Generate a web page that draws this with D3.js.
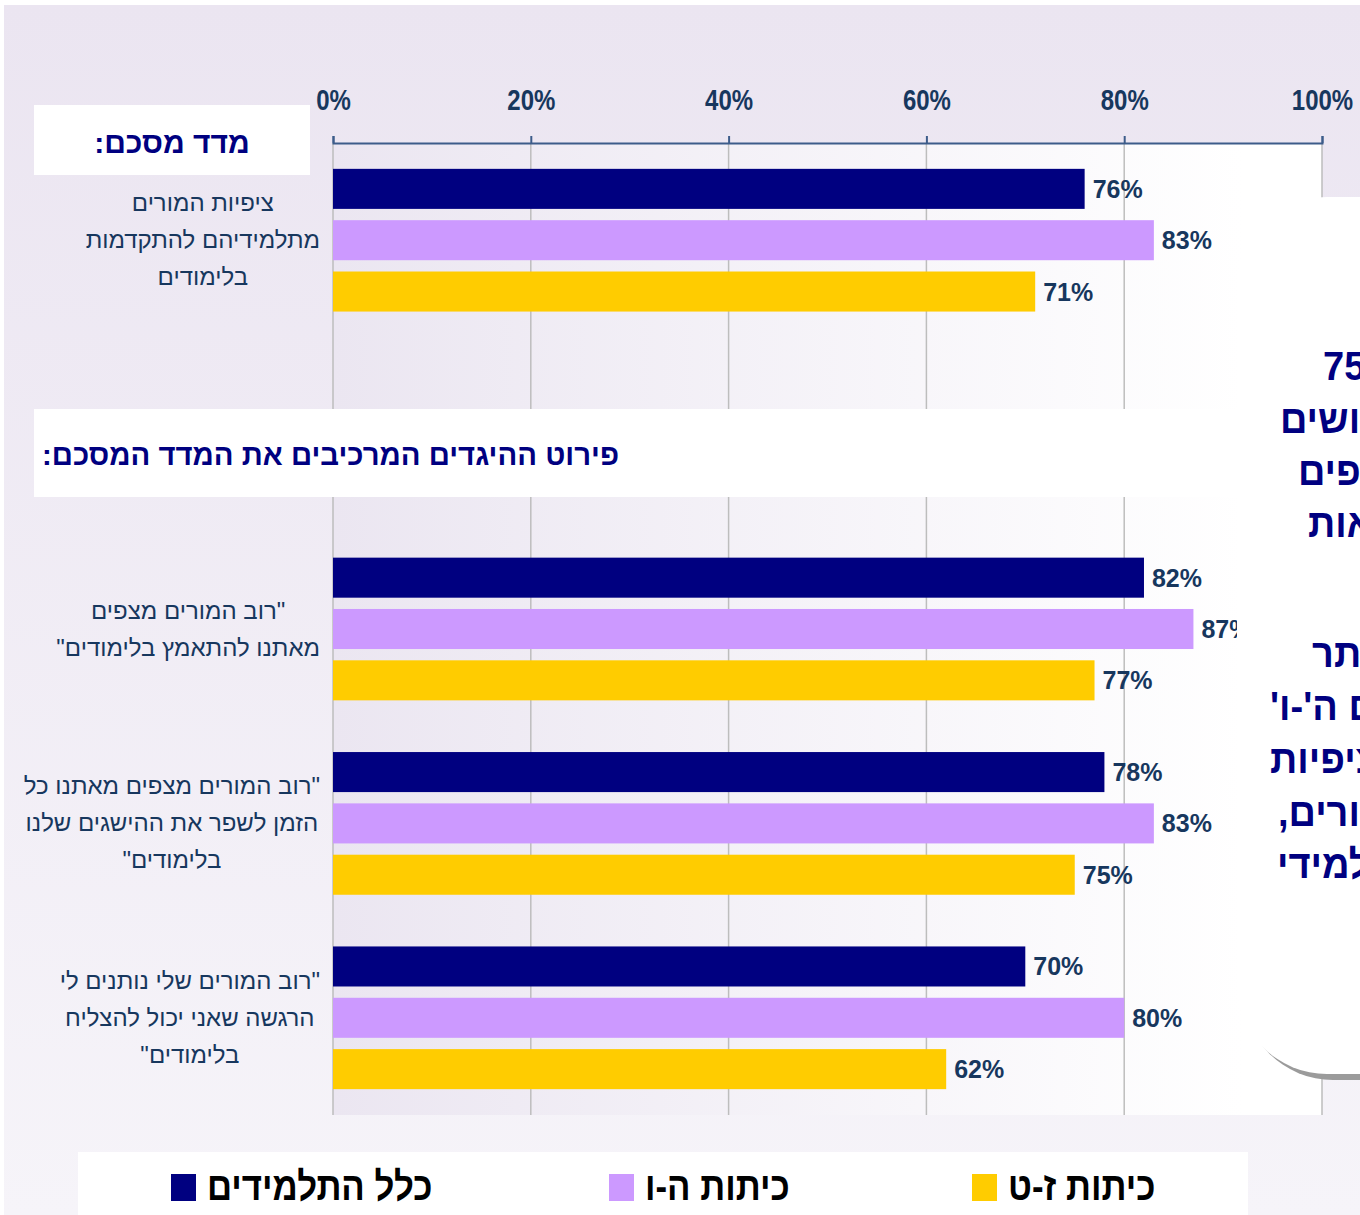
<!DOCTYPE html>
<html>
<head>
<meta charset="utf-8">
<style>
body { margin: 0; background: #fff; }
svg { display: block; }
</style>
</head>
<body>
<script src="https://d3js.org/d3.v7.min.js"></script>
<div id="my_dataviz"></div>
<script>

// data
var groups = ["g0", "hdr", "g1", "g2", "g3"];
var groupLabels = {
  g0: ["ציפיות המורים", "מתלמידיהם להתקדמות", "בלימודים"],
  g1: ["\"רוב המורים מצפים", "מאתנו להתאמץ בלימודים\""],
  g2: ["\"רוב המורים מצפים מאתנו כל", "הזמן לשפר את ההישגים שלנו", "בלימודים\""],
  g3: ["\"רוב המורים שלי נותנים לי", "הרגשה שאני יכול להצליח", "בלימודים\""]
};
var seriesNames = ["כלל התלמידים", "כיתות ה-ו", "כיתות ז-ט"];
var allStudents = [76, 82, 78, 70];
var grades56 = [83, 87, 83, 80];
var grades79 = [71, 77, 75, 62];
var tickValues = [0, 20, 40, 60, 80, 100];
var colors = ["#000080", "#cc99ff", "#ffcc00"];

var calloutLines1 = ["כ-75%", "מהתלמידים חושים", "שהמורים מצפים", "מהם להגיע לתוצאות"];
var calloutLines2 = ["ובולט יותר", "בקרב התלמידים ה'-ו'", "תחושת ציפיות", "מצד המורים,", "לתלמידי"];

var barGroups = ["g0", "g1", "g2", "g3"];
var rows = barGroups.map(function(g, i) {
  return { group: g, values: [allStudents[i], grades56[i], grades79[i]] };
});

var W = 1360, H = 1215;
var hebFont = "'Liberation Sans', Arial, sans-serif";
var textBlue = "#17375e";

// squeeze a text horizontally (the original uses a narrow typeface)
function condense(sel, f) {
  sel.each(function() {
    var w = this.getComputedTextLength();
    d3.select(this).attr("textLength", w * f).attr("lengthAdjust", "spacingAndGlyphs");
  });
}

var svg = d3.select("#my_dataviz").append("svg")
  .attr("width", W).attr("height", H);

var defs = svg.append("defs");
var pageGrad = defs.append("linearGradient").attr("id", "pageGrad")
  .attr("x1", 0).attr("y1", 0).attr("x2", 0).attr("y2", 1);
pageGrad.append("stop").attr("offset", "0%").attr("stop-color", "#ebe5f1");
pageGrad.append("stop").attr("offset", "100%").attr("stop-color", "#f6f4f9");

var plotGrad = defs.append("linearGradient").attr("id", "plotGrad")
  .attr("x1", 0).attr("y1", 0).attr("x2", 1).attr("y2", 0);
plotGrad.append("stop").attr("offset", "0%").attr("stop-color", "#ebe6f1");
plotGrad.append("stop").attr("offset", "92%").attr("stop-color", "#ffffff");
plotGrad.append("stop").attr("offset", "100%").attr("stop-color", "#ffffff");

// page background
svg.append("rect").attr("x", 4).attr("y", 5).attr("width", W - 4).attr("height", H - 5)
  .attr("fill", "url(#pageGrad)");

// scales
var x = d3.scaleLinear().domain([0, 100]).range([333, 1322]);
var y0 = d3.scaleBand().domain(groups).range([143, 1115]);
var bw = y0.bandwidth();
var y1 = d3.scaleBand().domain([0, 1, 2])
  .range([bw / 2 - 77, bw / 2 + 77])
  .paddingInner(0.22).paddingOuter(0.11);

// plot area
svg.append("rect")
  .attr("x", x(0)).attr("y", y0.range()[0])
  .attr("width", x(100) - x(0)).attr("height", y0.range()[1] - y0.range()[0])
  .attr("fill", "url(#plotGrad)");

// grid lines
svg.append("g").selectAll("line")
  .data(tickValues)
  .join("line")
    .attr("x1", function(d) { return x(d); })
    .attr("x2", function(d) { return x(d); })
    .attr("y1", y0.range()[0])
    .attr("y2", y0.range()[1])
    .attr("stroke", "#bdbdbd")
    .attr("stroke-width", 1.5);

// top axis
var axis = svg.append("g")
  .attr("transform", "translate(0," + y0.range()[0] + ")")
  .call(d3.axisTop(x).tickValues(tickValues).tickSize(7).tickPadding(26)
    .tickFormat(function(d) { return d + "%"; }));
axis.selectAll("path, line").attr("stroke", "#3d5c8a").attr("stroke-width", 2);
axis.selectAll("text")
  .attr("fill", textBlue)
  .style("font-family", hebFont)
  .style("font-weight", "bold")
  .style("font-size", "30px")
  .call(condense, 0.8);

// header boxes
svg.append("rect").attr("x", 34).attr("y", 105).attr("width", 276).attr("height", 70).attr("fill", "#fff");
svg.append("text")
  .attr("x", 172).attr("y", 153)
  .attr("direction", "rtl").attr("text-anchor", "middle")
  .attr("fill", "#000080")
  .style("font-family", hebFont).style("font-weight", "bold").style("font-size", "30px")
  .text("מדד מסכם:");

svg.append("rect").attr("x", 34).attr("y", 409).attr("width", 1206).attr("height", 88).attr("fill", "#fff");
svg.append("text")
  .attr("x", 619).attr("y", 465)
  .attr("direction", "rtl").attr("text-anchor", "start")
  .attr("fill", "#000080")
  .style("font-family", hebFont).style("font-weight", "bold").style("font-size", "29.3px")
  .text("פירוט ההיגדים המרכיבים את המדד המסכם:");

// bars
var rowG = svg.append("g").selectAll("g")
  .data(rows)
  .join("g")
    .attr("transform", function(d) { return "translate(0," + y0(d.group) + ")"; });

rowG.selectAll("rect")
  .data(function(d) { return d.values; })
  .join("rect")
    .attr("x", x(0))
    .attr("y", function(d, i) { return y1(i); })
    .attr("width", function(d) { return x(d) - x(0); })
    .attr("height", y1.bandwidth())
    .attr("fill", function(d, i) { return colors[i]; });

rowG.selectAll("text")
  .data(function(d) { return d.values; })
  .join("text")
    .attr("x", function(d) { return x(d) + 8; })
    .attr("y", function(d, i) { return y1(i) + y1.bandwidth() / 2 + 9; })
    .attr("fill", textBlue)
    .style("font-family", hebFont).style("font-weight", "bold").style("font-size", "25px")
    .text(function(d) { return d + "%"; });

// category labels, centred block with right edge at 320
barGroups.forEach(function(g) {
  var lines = groupLabels[g];
  var cy = y0(g) + bw / 2;
  var t = svg.append("g").selectAll("text")
    .data(lines)
    .join("text")
      .attr("y", function(d, i) { return cy + (i - (lines.length - 1) / 2) * 37 + 8; })
      .attr("direction", "rtl").attr("text-anchor", "middle")
      .attr("fill", textBlue)
      .style("font-family", hebFont).style("font-size", "24px")
      .text(function(d) { return d; });
  var maxW = d3.max(t.nodes(), function(n) { return n.getComputedTextLength(); });
  t.attr("x", 320 - maxW / 2);
});

// callout box on the right (partly outside the page)
svg.append("rect").attr("x", 1243).attr("y", 205).attr("width", 260).attr("height", 875)
  .attr("rx", 90).attr("fill", "#9b9b9b");
svg.append("rect").attr("x", 1237).attr("y", 197).attr("width", 260).attr("height", 877)
  .attr("rx", 90).attr("fill", "#fff");

var calloutStyle = function(sel) {
  sel.attr("direction", "rtl").attr("text-anchor", "end")
    .attr("fill", "#000080")
    .style("font-family", hebFont).style("font-weight", "bold").style("font-size", "40px");
};
var c1x = [1323, 1280, 1298, 1308];
var c1y = [380, 433, 485, 537];
svg.append("g").selectAll("text").data(calloutLines1).join("text")
  .attr("transform", function(d, i) { return "translate(" + c1x[i] + "," + c1y[i] + ") scale(0.95,1)"; })
  .text(function(d) { return d; })
  .call(calloutStyle);
var c2x = [1312, 1270, 1270, 1278, 1277];
var c2y = [667, 720, 773, 826, 878];
svg.append("g").selectAll("text").data(calloutLines2).join("text")
  .attr("transform", function(d, i) { return "translate(" + c2x[i] + "," + c2y[i] + ") scale(0.95,1)"; })
  .text(function(d) { return d; })
  .call(calloutStyle);

// legend
svg.append("rect").attr("x", 78).attr("y", 1152).attr("width", 1170).attr("height", 63).attr("fill", "#fff");
var legendX = [171, 609, 972];
var lg = svg.append("g").selectAll("g")
  .data(seriesNames)
  .join("g")
    .attr("transform", function(d, i) { return "translate(" + legendX[i] + ",1174)"; });
lg.append("rect").attr("width", 25).attr("height", 27)
  .attr("fill", function(d, i) { return colors[i]; });
lg.append("text")
  .attr("x", 36).attr("y", 26)
  .attr("direction", "rtl").attr("text-anchor", "end")
  .attr("fill", "#000")
  .style("font-family", hebFont).style("font-weight", "bold").style("font-size", "40px")
  .text(function(d) { return d; })
  .call(condense, 0.87);

</script>
</body>
</html>
